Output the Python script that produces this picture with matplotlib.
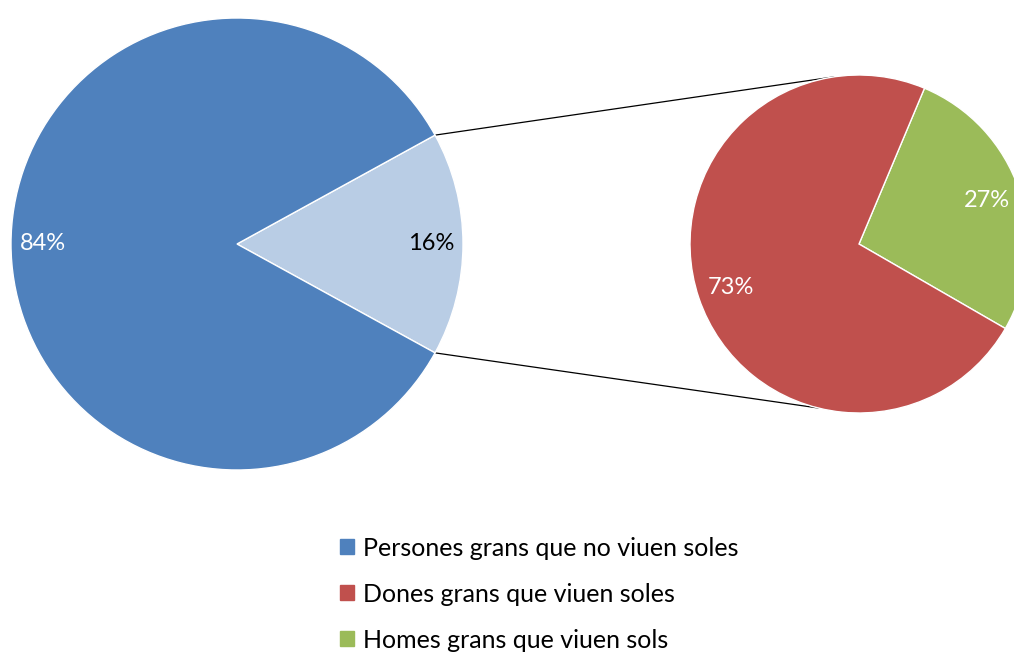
import numpy as np
import matplotlib
matplotlib.use("Agg")
import matplotlib.pyplot as plt
from matplotlib.patches import Patch

# data
main_values = [16, 84]          # share living alone / not alone
main_labels = ["16%", "84%"]
sub_values = [27, 73]           # men / women among those living alone
sub_labels = ["27%", "73%"]
legend_labels = ["Persones grans que no viuen soles",
                 "Dones grans que viuen soles",
                 "Homes grans que viuen sols"]

blue = "#4F81BD"
light_blue = "#B9CDE5"
red = "#C0504D"
green = "#9BBB59"

plt.rcParams['font.family'] = ['Lato', 'DejaVu Sans']

W, H = 1014, 653
fig = plt.figure(figsize=(W / 100, H / 100), dpi=100)
ax = fig.add_axes([0, 0, 1, 1])

# left pie
c1 = (237, H - 244)
r1 = 226
start1 = -main_values[0] / sum(main_values) * 360 / 2
w1, _ = ax.pie(main_values, colors=[light_blue, blue], startangle=start1,
               center=c1, radius=r1, frame=True,
               wedgeprops=dict(edgecolor="white", linewidth=1))
for w, txt, col in zip(w1, main_labels, ["black", "white"]):
    mid = np.deg2rad((w.theta1 + w.theta2) / 2)
    ax.text(c1[0] + 0.86 * r1 * np.cos(mid), c1[1] + 0.86 * r1 * np.sin(mid),
            txt, ha="center", va="center", fontsize=17, color=col)

# right pie
c2 = (859, H - 244)
r2 = 169
w2, _ = ax.pie(sub_values, colors=[green, red], startangle=-30,
               center=c2, radius=r2, frame=True,
               wedgeprops=dict(edgecolor="white", linewidth=1))
for w, txt in zip(w2, sub_labels):
    mid = np.deg2rad((w.theta1 + w.theta2) / 2)
    ax.text(c2[0] + 0.8 * r2 * np.cos(mid), c2[1] + 0.8 * r2 * np.sin(mid),
            txt, ha="center", va="center", fontsize=17, color="white")

ax.set_xlim(0, W)
ax.set_ylim(0, H)
ax.set_aspect("equal")
ax.axis("off")

# connector lines
for a1, a2 in [(w1[0].theta2, 98.5), (w1[0].theta1, -104)]:
    p1 = (c1[0] + r1 * np.cos(np.deg2rad(a1)), c1[1] + r1 * np.sin(np.deg2rad(a1)))
    p2 = (c2[0] + r2 * np.cos(np.deg2rad(a2)), c2[1] + r2 * np.sin(np.deg2rad(a2)))
    ax.plot([p1[0], p2[0]], [p1[1], p2[1]], color="black", linewidth=0.9, zorder=0)

handles = [Patch(color=c) for c in [blue, red, green]]
fig.legend(handles, legend_labels, loc="center left", bbox_to_anchor=(340 / W, 1 - 594 / H),
           frameon=False, fontsize=18, handlelength=0.56, handleheight=0.56,
           handletextpad=0.36, labelspacing=0.92, borderpad=0, borderaxespad=0)

fig.savefig("out.png", dpi=100)
